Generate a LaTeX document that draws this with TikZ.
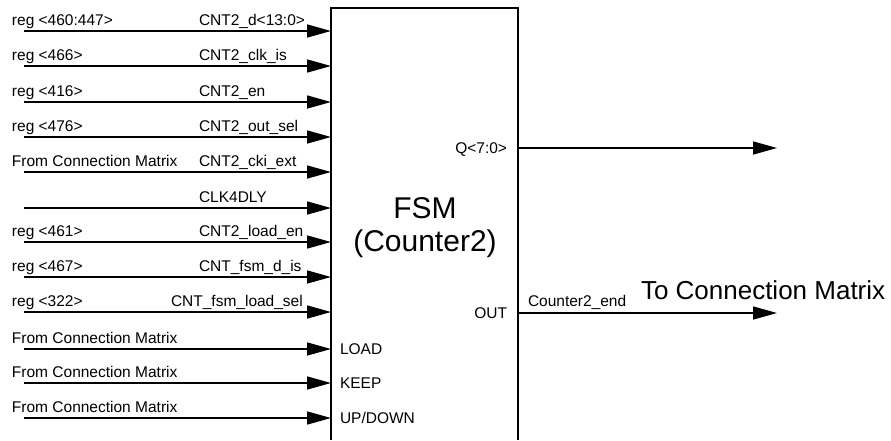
\documentclass[tikz,border=0pt]{standalone}
\usepackage{fontspec}
\setmainfont{Liberation Sans}
\usetikzlibrary{arrows.meta, positioning}

\begin{document}
\begin{tikzpicture}[x=1pt, y=-1pt,
        every node/.style={font=\fontsize{15.5}{18}\selectfont, inner sep=0pt, outer sep=0pt},
        sig/.style={line width=1.5pt, -{Triangle[length=24pt, width=13pt]}},
        wire/.style={line width=1.5pt}]
    \useasboundingbox (0,0) rectangle (891,440);

    % the block
    \node[minimum width=187pt, minimum height=432pt, anchor=north west] (fsm) at (331,8) {};
    \draw[line width=1.2pt] (fsm.south west) -- (fsm.north west) -- (fsm.north east) -- (fsm.south east);
    \node[font=\fontsize{30}{34}\selectfont, anchor=base] (title) at (425,218) {FSM};
    \node[font=\fontsize{30}{34}\selectfont, anchor=base] (sub) at (425,251) {(Counter2)};

    % inputs
    \foreach \i/\y/\src/\dst/\x in {
        1/31/reg <460:447>/CNT2\_d<13:0>/199,
        2/66/reg <466>/CNT2\_clk\_is/199,
        3/102/reg <416>/CNT2\_en/199,
        4/137/reg <476>/CNT2\_out\_sel/199,
        5/172/From Connection Matrix/CNT2\_cki\_ext/199,
        6/208/{}/CLK4DLY/199,
        7/242/reg <461>/CNT2\_load\_en/199,
        8/277/reg <467>/CNT\_fsm\_d\_is/199,
        9/312/reg <322>/CNT\_fsm\_load\_sel/171,
        10/349/From Connection Matrix/{}/199,
        11/383/From Connection Matrix/{}/199,
        12/418/From Connection Matrix/{}/199}
    {
        \coordinate (in\i) at (24,\y);
        \node[anchor=base west] (src\i) at (12,\y-5.5) {\src};
        \node[anchor=base west] (dst\i) at (\x,\y-5.5) {\dst};
        \draw[sig] (in\i) -- (in\i -| fsm.west);
    }

    % pins inside the block
    \node[anchor=base west] (load) at (340,354.5) {LOAD};
    \node[anchor=base west] (keep) at (340,388.5) {KEEP};
    \node[anchor=base west] (updown) at (340,423.5) {UP/DOWN};
    \node[anchor=base east] (q) at (507,153.5) {Q<7:0>};
    \node[anchor=base east] (out) at (507,318.5) {OUT};

    % outputs
    \coordinate (qend) at (777,148);
    \coordinate (outend) at (777,313);
    \draw[sig] (qend -| fsm.east) -- (qend);
    \draw[sig] (outend -| fsm.east) -- (outend);
    \node[anchor=base west] (endlbl) at (528,306.5) {Counter2\_end};
    \node[anchor=base west, font=\fontsize{26}{30}\selectfont] (matrix) at (641,299) {To Connection Matrix};
\end{tikzpicture}
\end{document}
